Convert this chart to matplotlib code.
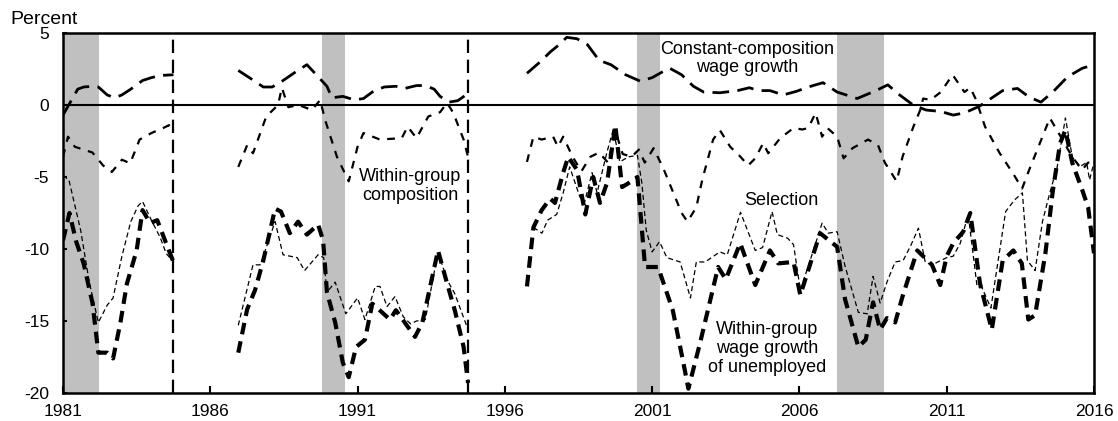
import numpy as np
import matplotlib
matplotlib.use("Agg")
import matplotlib.pyplot as plt

plt.rcParams['font.family'] = ['Liberation Sans', 'DejaVu Sans']
plt.rcParams['axes.unicode_minus'] = False

nan = np.nan

# ---- data ----
cc_years = [1981.0, 1981.25, 1981.5, 1981.7, 1982.0, 1982.2, 1982.5, 1982.75, 1983.0, 1983.3,
            1983.7, 1984.0, 1984.3, 1984.75, nan,
            1986.95, 1987.4, 1987.8, 1988.1, 1988.4, 1988.9, 1989.28, 1989.6, 1989.96, 1990.13,
            1990.5, 1990.9, 1991.2, 1991.5, 1991.9, 1992.3, 1992.6, 1993.0, 1993.3, 1993.6,
            1993.8, 1994.1, 1994.4, 1994.75, nan,
            1996.75, 1997.2, 1997.55, 1997.85, 1998.1, 1998.45, 1998.8, 1999.2, 1999.6, 2000.1,
            2000.6, 2001.0, 2001.35, 2001.6, 2002.0, 2002.4, 2002.75, 2003.3, 2003.9, 2004.3,
            2004.6, 2005.0, 2005.45, 2005.9, 2006.3, 2006.8, 2007.28, 2007.96, 2008.6, 2009.0,
            2009.4, 2009.86, 2010.3, 2010.8, 2011.22, 2011.6, 2012.1, 2012.5, 2012.9, 2013.4,
            2013.8, 2014.2, 2014.6, 2015.1, 2015.6, 2016.0]
cc_values = [-0.7, 0.2, 1.1, 1.25, 1.3, 1.25, 0.7, 0.5, 0.7, 1.1,
             1.7, 1.9, 2.05, 2.1, nan,
             2.4, 1.8, 1.25, 1.25, 1.6, 2.3, 2.8, 2.1, 1.3, 0.5,
             0.6, 0.35, 0.45, 0.9, 1.25, 1.3, 1.15, 1.35, 1.35, 1.1,
             0.6, 0.2, 0.3, 0.8, nan,
             2.2, 3.0, 3.7, 4.2, 4.7, 4.6, 4.2, 3.1, 2.8, 2.1,
             1.65, 1.9, 2.3, 2.55, 2.1, 1.3, 0.9, 0.85, 1.0, 1.2,
             1.0, 1.0, 0.7, 0.95, 1.25, 1.55, 0.9, 0.45, 1.0, 1.4,
             0.7, 0.0, -0.35, -0.45, -0.7, -0.55, -0.1, 0.45, 1.0, 1.15,
             0.55, 0.2, 0.9, 1.95, 2.55, 2.8]

wgc_years = [1981.0, 1981.17, 1981.4, 1982.0, 1982.36, 1982.66, 1983.0, 1983.28, 1983.6, 1984.0,
             1984.4, 1984.6, 1984.75, nan,
             1986.95, 1987.25, 1987.45, 1987.9, 1988.3, 1988.43, 1988.65, 1989.0, 1989.45, 1989.73,
             1989.9, 1990.3, 1990.7, 1991.0, 1991.2, 1991.76, 1992.5, 1992.7, 1993.0, 1993.4,
             1993.8, 1994.04, 1994.25, 1994.6, 1994.75, nan,
             1996.75, 1996.97, 1997.25, 1997.64, 1997.8, 1997.98, 1998.3, 1998.6, 1998.9, 1999.2,
             1999.5, 1999.75, 2000.0, 2000.3, 2000.55, 2000.75, 2001.05, 2001.4, 2002.0, 2002.2,
             2002.5, 2002.7, 2003.07, 2003.3, 2003.65, 2004.0, 2004.26, 2004.5, 2004.77, 2004.94,
             2005.35, 2005.8, 2006.1, 2006.3, 2006.55, 2006.77, 2006.95, 2007.28, 2007.5, 2007.8,
             2008.33, 2008.67, 2008.9, 2009.3, 2009.5, 2009.87, 2010.1, 2010.2, 2010.45, 2010.8,
             2011.2, 2011.6, 2011.8, 2012.0, 2012.3, 2012.8, 2013.25, 2013.56, 2013.8, 2014.3,
             2014.5, 2014.8, 2015.26, 2015.6, 2015.8, 2016.0]
wgc_values = [-3.6, -2.2, -2.9, -3.3, -4.2, -4.65, -3.8, -4.05, -2.4, -1.95,
              -1.6, -1.4, -1.75, nan,
              -4.3, -2.8, -3.35, -0.8, 0.0, 1.2, -0.15, 0.0, -0.35, 0.35,
              -1.05, -3.6, -5.3, -2.9, -1.95, -2.4, -2.3, -1.5, -2.3, -0.8,
              -0.5, 0.15, -0.55, -2.4, -3.6, nan,
              -3.95, -2.2, -2.4, -2.2, -2.9, -2.2, -3.6, -4.6, -3.6, -3.3,
              -4.0, -1.8, -3.4, -3.6, -3.1, -4.0, -3.0, -4.5, -7.5, -8.1,
              -7.1, -5.2, -2.4, -1.75, -2.9, -3.6, -4.2, -3.7, -2.65, -3.35,
              -2.3, -1.6, -1.7, -1.6, -0.55, -2.2, -1.6, -2.2, -3.7, -3.0,
              -2.4, -2.8, -4.0, -5.3, -3.6, -1.5, -0.35, 0.45, 0.35, 0.9,
              2.1, 0.9, 1.2, 0.35, -1.5, -3.35, -4.75, -5.8, -4.5, -1.95,
              -0.9, -1.95, -3.6, -4.5, -4.0, -4.0]

sel_years = [1981.0, 1981.2, 1981.6, 1981.9, 1982.2, 1982.5, 1982.7, 1983.0, 1983.3, 1983.55,
             1983.7, 1984.0, 1984.3, 1984.5, 1984.75, nan,
             1986.95, 1987.45, 1987.7, 1988.2, 1988.47, 1988.95, 1989.2, 1989.66, 1989.85, 1989.96,
             1990.24, 1990.6, 1991.0, 1991.25, 1991.6, 1991.76, 1992.0, 1992.27, 1992.55, 1992.8,
             1993.0, 1993.3, 1993.73, 1994.04, 1994.3, 1994.75, nan,
             1996.97, 1997.26, 1997.45, 1997.76, 1997.98, 1998.2, 1998.55, 1998.7, 1998.96, 1999.13,
             1999.47, 1999.68, 1999.9, 2000.2, 2000.5, 2000.65, 2000.8, 2001.0, 2001.25, 2001.5,
             2001.95, 2002.3, 2002.5, 2002.8, 2003.3, 2003.55, 2004.0, 2004.5, 2004.75, 2005.07,
             2005.25, 2005.6, 2005.8, 2006.03, 2006.3, 2006.77, 2006.98, 2007.28, 2007.55, 2008.0,
             2008.3, 2008.5, 2008.74, 2008.97, 2009.25, 2009.52, 2009.76, 2010.04, 2010.27, 2010.5,
             2011.0, 2011.22, 2011.46, 2011.73, 2012.03, 2012.2, 2012.5, 2013.0, 2013.3, 2013.57,
             2013.74, 2014.0, 2014.25, 2014.5, 2014.75, 2015.03, 2015.26, 2015.5, 2015.75, 2015.85,
             2016.0]
sel_values = [-4.9, -5.2, -8.7, -12.4, -15.1, -13.9, -13.4, -10.5, -8.1, -7.0,
              -6.7, -8.0, -9.2, -10.3, -10.9, nan,
              -15.3, -11.1, -11.1, -8.1, -10.4, -10.6, -11.5, -10.4, -10.6, -13.0,
              -12.3, -14.5, -13.4, -14.9, -12.6, -12.6, -14.0, -13.3, -14.7, -15.2,
              -15.0, -14.9, -10.2, -12.15, -13.1, -15.6, nan,
              -8.5, -8.9, -8.0, -7.6, -6.1, -4.3, -6.4, -6.8, -4.7, -6.1,
              -3.25, -1.7, -3.95, -3.6, -3.5, -5.4, -8.7, -10.2, -9.5, -10.6,
              -10.9, -13.4, -10.9, -10.9, -10.2, -10.4, -7.45, -10.1, -9.9, -7.4,
              -9.0, -9.25, -9.7, -12.85, -11.2, -8.2, -8.9, -8.8, -11.2, -14.4,
              -14.5, -11.9, -13.75, -12.3, -10.9, -10.8, -9.85, -8.55, -10.9, -11.1,
              -10.6, -10.5, -9.6, -7.6, -12.6, -12.7, -14.1, -7.4, -6.6, -6.1,
              -10.8, -11.5, -8.1, -6.1, -4.3, -0.9, -3.6, -4.3, -4.0, -5.2,
              -4.0]

tu_years = [1981.0, 1981.22, 1981.45, 1981.7, 1982.0, 1982.2, 1982.5, 1982.7, 1982.95, 1983.17,
            1983.5, 1983.7, 1983.96, 1984.2, 1984.5, 1984.75, nan,
            1986.95, 1987.25, 1987.52, 1987.8, 1988.2, 1988.4, 1988.7, 1988.98, 1989.28, 1989.66,
            1989.83, 1989.96, 1990.24, 1990.5, 1990.7, 1990.95, 1991.25, 1991.5, 1991.75, 1992.1,
            1992.3, 1992.6, 1992.95, 1993.2, 1993.73, 1994.04, 1994.3, 1994.6, 1994.75, nan,
            1996.75, 1996.97, 1997.25, 1997.54, 1997.7, 1997.98, 1998.15, 1998.45, 1998.73, 1999.0,
            1999.23, 1999.47, 1999.75, 1999.98, 2000.3, 2000.5, 2000.76, 2001.2, 2001.7, 2002.06,
            2002.23, 2002.63, 2003.24, 2003.5, 2003.99, 2004.5, 2005.0, 2005.28, 2005.8, 2006.03,
            2006.7, 2007.28, 2007.55, 2008.0, 2008.25, 2008.5, 2008.74, 2008.97, 2009.25, 2009.5,
            2010.0, 2010.5, 2010.78, 2011.0, 2011.22, 2011.56, 2011.8, 2012.13, 2012.53, 2012.9,
            2013.26, 2013.55, 2013.77, 2014.0, 2014.35, 2014.6, 2014.85, 2015.03, 2015.26, 2015.6,
            2015.8, 2016.0]
tu_values = [-9.4, -7.5, -9.5, -11.0, -13.75, -17.2, -17.2, -17.6, -15.1, -12.4,
             -10.1, -7.3, -8.2, -8.0, -9.6, -10.9, nan,
             -17.2, -14.2, -12.85, -10.8, -7.2, -7.4, -8.9, -8.1, -9.0, -8.3,
             -9.4, -13.0, -15.1, -17.9, -18.9, -16.8, -16.3, -13.8, -14.25, -14.9,
             -14.25, -15.1, -16.1, -15.1, -10.1, -12.4, -14.25, -16.8, -19.3, nan,
             -12.6, -8.5, -7.3, -6.5, -6.8, -4.7, -3.6, -4.5, -7.6, -5.0,
             -6.8, -5.4, -1.4, -5.7, -5.3, -5.0, -11.25, -11.25, -14.25, -17.9,
             -19.7, -16.5, -11.25, -12.1, -9.6, -12.5, -10.1, -11.0, -10.9, -13.2,
             -8.9, -9.85, -13.5, -16.8, -16.3, -13.7, -15.6, -14.8, -15.1, -13.3,
             -10.1, -11.1, -12.5, -10.5, -9.6, -8.8, -7.5, -12.4, -15.6, -10.8,
             -10.1, -11.0, -14.9, -14.6, -10.3, -6.0, -2.65, -1.75, -4.0, -5.9,
             -7.1, -10.3]

recession_starts = [1981.0, 1989.8, 2000.48, 2007.27]
recession_ends = [1982.23, 1990.57, 2001.25, 2008.87]
break_years = [1984.75, 1994.75]

x_ticks = [1981, 1986, 1991, 1996, 2001, 2006, 2011, 2016]
y_ticks = [-20, -15, -10, -5, 0, 5]

# ---- figure ----
fig = plt.figure(figsize=(11.18, 4.21), dpi=100)
ax = fig.add_axes([63 / 1118, 1 - 393 / 421, (1094 - 63) / 1118, (393 - 33) / 421])

for s, e in zip(recession_starts, recession_ends):
    ax.axvspan(s, e, color='#c0c0c0', lw=0, zorder=0)

ax.axhline(0, color='black', lw=1.5, zorder=1)
for b in break_years:
    ax.axvline(b, color='black', lw=1.6, dashes=(6, 3), zorder=1)

ax.plot(cc_years, cc_values, color='black', lw=2.0, dashes=(6, 3), zorder=3)
ax.plot(wgc_years, wgc_values, color='black', lw=1.6, dashes=(3.5, 3.5), zorder=3)
ax.plot(sel_years, sel_values, color='black', lw=0.9, dashes=(4, 2.5), zorder=3)
ax.plot(tu_years, tu_values, color='black', lw=3.0, dashes=(2.8, 1.7), zorder=4)

ax.set_xlim(1981, 2016)
ax.set_ylim(-20, 5)
ax.set_xticks(x_ticks)
ax.set_xticklabels([str(t) for t in x_ticks])
ax.set_yticks(y_ticks)
ax.set_yticklabels([str(t) for t in y_ticks])
ax.tick_params(axis='x', direction='in', length=5, width=1.5, pad=8, labelsize=12.5)
ax.tick_params(axis='y', direction='in', length=3, width=1.5, pad=10, labelsize=12.5)
for sp in ax.spines.values():
    sp.set_linewidth(1.8)

fig.text(10 / 1118, 1 - 20 / 421, 'Percent', fontsize=14, ha='left', va='center')

ax.text(2004.22, 3.23, 'Constant-composition\nwage growth', fontsize=13, ha='center', va='center',
        linespacing=1.15)
ax.text(1992.78, -5.6, 'Within-group\ncomposition', fontsize=13, ha='center', va='center',
        linespacing=1.15)
ax.text(2005.37, -6.6, 'Selection', fontsize=13, ha='center', va='center')
ax.text(2004.9, -16.9, 'Within-group\nwage growth\nof unemployed', fontsize=13, ha='center',
        va='center', linespacing=1.15)

fig.savefig('out.png', dpi=100)
